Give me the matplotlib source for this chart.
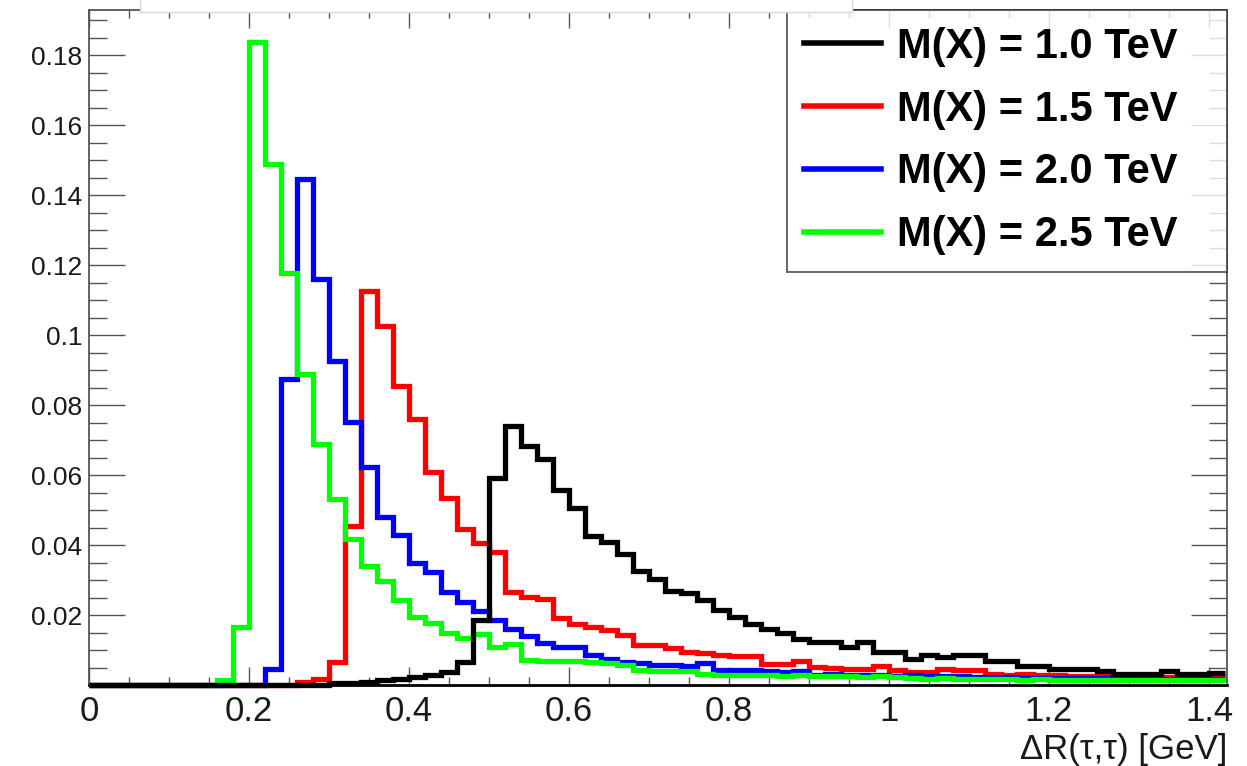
import matplotlib
matplotlib.use('Agg')
import matplotlib.pyplot as plt
from matplotlib.ticker import MultipleLocator, FuncFormatter
from matplotlib.lines import Line2D
from matplotlib.patches import Rectangle
import numpy as np

plt.rcParams['font.family'] = ['Liberation Sans', 'DejaVu Sans']

# histogram binning: 0.02 wide bins from 0 to 1.42
bin_edges = np.round(np.arange(0, 1.4201, 0.02), 2)

labels = ['M(X) = 1.0 TeV', 'M(X) = 1.5 TeV', 'M(X) = 2.0 TeV', 'M(X) = 2.5 TeV']
colors = ['#000000', '#ff0000', '#0000ff', '#00ff00']

# normalised dR(tau,tau) distributions, one value per bin
m10 = [0, 0, 0, 0, 0, 0, 0, 0, 0, 0,
       0, 0, 0, 0, 0, 0.0005, 0.0007, 0.001, 0.0015, 0.0018,
       0.0023, 0.003, 0.0037, 0.0065, 0.0186, 0.0592, 0.074, 0.0682, 0.0645, 0.0557,
       0.0505, 0.0426, 0.0408, 0.0374, 0.0326, 0.0303, 0.0269, 0.0262, 0.0244, 0.0214,
       0.0194, 0.0174, 0.016, 0.0148, 0.0131, 0.0123, 0.0123, 0.0109, 0.0123, 0.0094,
       0.0094, 0.0074, 0.0086, 0.008, 0.0086, 0.0086, 0.0069, 0.0069, 0.0054, 0.0054,
       0.0046, 0.0046, 0.0046, 0.004, 0.0031, 0.0031, 0.0031, 0.004, 0.0031, 0.0031,
       0.0034]
m15 = [0, 0, 0, 0, 0, 0, 0, 0, 0, 0,
       0, 0, 0, 0.0008, 0.0017, 0.0065, 0.0454, 0.1126, 0.1026, 0.0855,
       0.076, 0.0608, 0.0534, 0.0446, 0.0405, 0.038, 0.0266, 0.0252, 0.0246, 0.0191,
       0.0174, 0.0166, 0.0158, 0.0143, 0.0114, 0.0114, 0.0106, 0.0094, 0.0092, 0.0086,
       0.0082, 0.0082, 0.006, 0.006, 0.0069, 0.0051, 0.005, 0.0046, 0.0046, 0.0054,
       0.0044, 0.0037, 0.0037, 0.0046, 0.0042, 0.0042, 0.0032, 0.003, 0.0032, 0.0028,
       0.003, 0.0026, 0.0025, 0.0026, 0.0024, 0.0025, 0.0026, 0.0024, 0.0025, 0.0024,
       0.0025]
m20 = [0, 0, 0, 0, 0, 0, 0, 0, 0, 0,
       0, 0.0046, 0.0874, 0.1446, 0.116, 0.0926, 0.0751, 0.0623, 0.048, 0.043,
       0.035, 0.0324, 0.0266, 0.0237, 0.0211, 0.0186, 0.016, 0.014, 0.012, 0.0109,
       0.0109, 0.0086, 0.0074, 0.0066, 0.0062, 0.0057, 0.0057, 0.0054, 0.0062, 0.0043,
       0.0043, 0.0043, 0.004, 0.0038, 0.004, 0.003, 0.0032, 0.003, 0.0028, 0.003,
       0.0027, 0.0028, 0.0026, 0.0025, 0.0026, 0.0024, 0.0022, 0.0023, 0.0021, 0.002,
       0.0021, 0.002, 0.0019, 0.002, 0.0018, 0.0019, 0.0018, 0.0017, 0.0018, 0.0017,
       0.0017]
m25 = [0, 0, 0, 0, 0, 0, 0, 0, 0.0015, 0.0166,
       0.1837, 0.1489, 0.1177, 0.0889, 0.0689, 0.0531, 0.0417, 0.034, 0.0297, 0.0243,
       0.0195, 0.0177, 0.015, 0.0135, 0.0145, 0.011, 0.0117, 0.0072, 0.0069, 0.0068,
       0.0069, 0.0066, 0.0062, 0.0058, 0.0042, 0.004, 0.0041, 0.004, 0.0031, 0.003,
       0.0029, 0.003, 0.0028, 0.0027, 0.0028, 0.0026, 0.0026, 0.0025, 0.0024, 0.0025,
       0.0023, 0.0019, 0.0018, 0.0019, 0.0017, 0.0017, 0.0016, 0.0016, 0.0015, 0.0016,
       0.0015, 0.0015, 0.0014, 0.0015, 0.0014, 0.0014, 0.0013, 0.0014, 0.0013, 0.0013,
       0.0013]

series = [m10, m15, m20, m25]
zorders = [6, 3, 4, 5]  # black on top, then green, blue, red

fig = plt.figure(figsize=(12.47, 7.66), dpi=100)
W, H = 1247.0, 766.0
ax = fig.add_axes([89 / W, 1 - 685 / H, 1138 / W, 675 / H])

for vals, col, z in zip(series, colors, zorders):
    ax.stairs(vals, bin_edges, color=col, lw=3.8, zorder=z, clip_on=False,
              baseline=None)

ax.set_xlim(0, 1.4225)
ax.set_ylim(0, 0.1929)

ax.set_xticks([0, 0.2, 0.4, 0.6, 0.8, 1.0, 1.2, 1.4])
ax.set_yticks([0.02, 0.04, 0.06, 0.08, 0.1, 0.12, 0.14, 0.16, 0.18])
ax.xaxis.set_minor_locator(MultipleLocator(0.05))
ax.yaxis.set_minor_locator(MultipleLocator(0.005))
fmt = FuncFormatter(lambda v, p: '%g' % round(v, 3))
ax.xaxis.set_major_formatter(fmt)
ax.yaxis.set_major_formatter(fmt)

ax.tick_params(which='both', direction='in', top=True, right=True,
               color='#555555', width=1.0, labelcolor='#1a1a1a')
ax.tick_params(axis='x', which='major', length=13, labelsize=25, pad=7)
ax.tick_params(axis='x', which='minor', length=6)
ax.tick_params(axis='y', which='major', length=26, labelsize=19, pad=5)
ax.tick_params(axis='y', which='minor', length=13)

for side in ['left', 'right', 'top']:
    ax.spines[side].set_color('#555555')
    ax.spines[side].set_linewidth(1.3)
ax.spines['bottom'].set_color('#000000')
ax.spines['bottom'].set_linewidth(2)

ax.set_xlabel('\u0394R(\u03c4,\u03c4) [GeV]', fontsize=25, color='#1a1a1a',
              ha='right', x=1.0, labelpad=4)

handles = [Line2D([], [], color=c, lw=4) for c in colors]
leg = ax.legend(handles, labels, loc='upper left',
                bbox_to_anchor=(698 / 1138, 0, 440 / 1138, 1.0), mode='expand',
                prop={'weight': 'bold', 'size': 30}, frameon=True, fancybox=False,
                borderaxespad=0, handlelength=1.85, handletextpad=0.4,
                labelspacing=0.55, borderpad=0.4)
leg.get_frame().set_edgecolor('#333333')
leg.get_frame().set_linewidth(1.3)
leg.set_zorder(10)

# white title box that hides the upper frame in the reference
fig.patches.append(Rectangle((140 / W, 1 - 12 / H), 712 / W, 14 / H,
                             transform=fig.transFigure, facecolor='white',
                             edgecolor='#d8d8d8', lw=1, zorder=20))

fig.savefig('out.png', dpi=100)
